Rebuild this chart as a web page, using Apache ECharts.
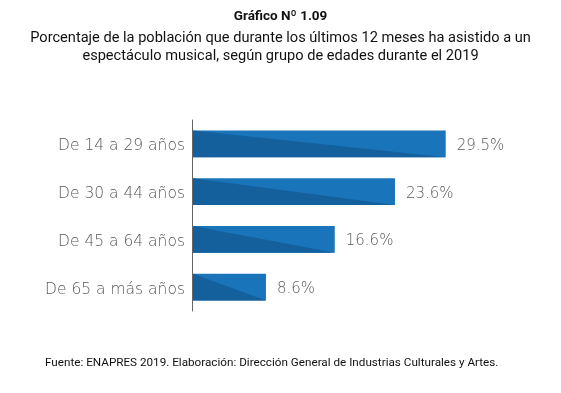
<!DOCTYPE html>
<html><head><meta charset="utf-8">
<script src="https://cdn.jsdelivr.net/npm/echarts@6/dist/echarts.min.js"></script>
<style>html,body{margin:0;padding:0;background:#fff}#c{width:561px;height:393px}</style>
</head><body><div id="c"></div>
<script>
const categories = ["De 14 a 29 años", "De 30 a 44 años", "De 45 a 64 años", "De 65 a más años"];
const values = [29.5, 23.6, 16.6, 8.6];
const titleText = "Gráfico Nº 1.09";
const subtitleText = "Porcentaje de la población que durante los últimos 12 meses ha asistido a un\nespectáculo musical, según grupo de edades durante el 2019";
const sourceText = "Fuente: ENAPRES 2019. Elaboración: Dirección General de Industrias Culturales y Artes.";

const LIGHT = '#1a74ba', DARK = '#14609d';
const chart = echarts.init(document.getElementById('c'), null, {renderer: 'canvas'});
chart.setOption({
  animation: false,
  title: [
    {text: titleText, left: 'center', top: 5, textStyle: {fontFamily: 'Roboto', fontWeight: 'bold', fontSize: 13.5, color: '#111'}},
    {text: subtitleText, left: 'center', top: 24, textStyle: {fontFamily: 'Roboto', fontWeight: 'normal', fontSize: 14.6, lineHeight: 18, color: '#111', align: 'center'}},
    {text: sourceText, left: 40, top: 352, textStyle: {fontFamily: 'Roboto', fontWeight: 'normal', fontSize: 11.7, color: '#111'}}
  ],
  grid: {left: 192, right: 68, top: 120, bottom: 82},
  xAxis: {type: 'value', min: 0, max: 35, show: false},
  yAxis: {
    type: 'category', data: categories, inverse: true,
    axisLine: {show: true, lineStyle: {color: '#666', width: 1}},
    axisTick: {show: false},
    axisLabel: {fontFamily: 'DejaVu Sans', fontWeight: 300, fontSize: 15.5, color: '#5a5a5a', margin: 7,
      formatter: function (v) { return '{a|' + v + '}'; },
      rich: {a: {fontFamily: 'DejaVu Sans', fontWeight: 300, fontSize: 15.5, color: '#5a5a5a', padding: [5, 0, 0, 0]}}}
  },
  series: [{
    type: 'custom',
    data: values.map((v, i) => [v, i]),
    encode: {x: 0, y: 1},
    renderItem: function (params, api) {
      const v = api.value(0), i = api.value(1);
      const p0 = api.coord([0, i]);
      const p1 = api.coord([v, i]);
      const h = api.size([0, 1])[1] * 0.56;
      const x0 = p0[0] + 1, x1 = p1[0], yt = p0[1] - h / 2, yb = p0[1] + h / 2;
      return {
        type: 'group',
        children: [
          {type: 'rect', shape: {x: x0, y: yt, width: x1 - x0, height: h}, style: {fill: LIGHT}},
          {type: 'polygon', shape: {points: [[x0, yt], [x1, yb], [x0, yb]]}, style: {fill: DARK}},
          {type: 'text', style: {text: v.toFixed(1) + '%', x: x1 + 11, y: p0[1] + 2, verticalAlign: 'middle', align: 'left', font: '300 15px "DejaVu Sans"', fill: '#5a5a5a'}}
        ]
      };
    }
  }]
});
</script></body></html>
